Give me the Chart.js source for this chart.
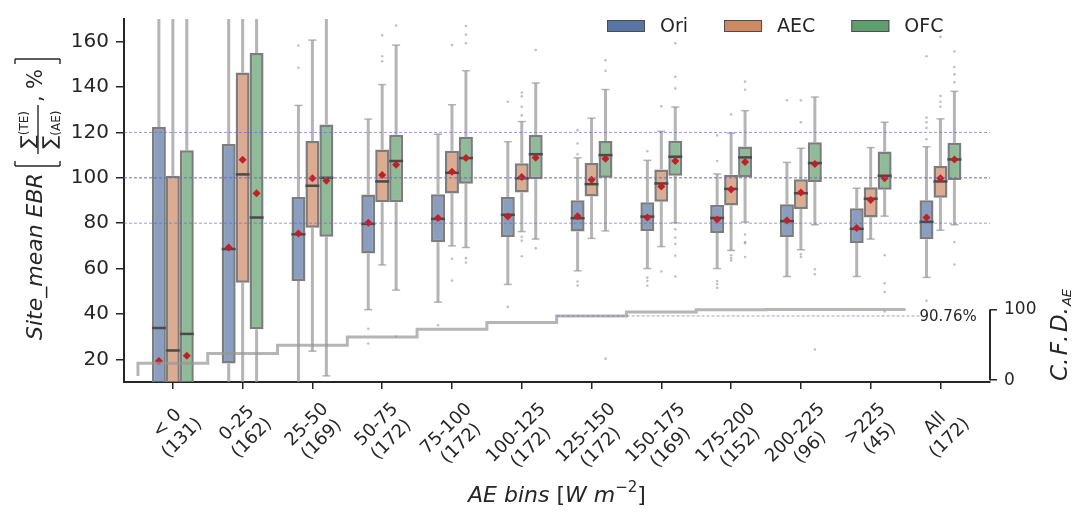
<!DOCTYPE html>
<html>
<head>
<meta charset="utf-8">
<script src="https://cdn.jsdelivr.net/npm/chart.js@4.4.1/dist/chart.umd.min.js"></script>
<style>
  html, body { margin: 0; padding: 0; background: #fff; }
  canvas { display: block; }
</style>
</head>
<body>
<canvas id="chart" width="1084" height="512"></canvas>
<script>
// bins along the x axis, with the sample count under each label
const categories = ['< 0', '0-25', '25-50', '50-75', '75-100', '100-125', '125-150', '150-175', '175-200', '200-225', '>225', 'All'];
const binCounts = [131, 162, 169, 172, 172, 172, 172, 169, 152, 96, 45, 172];
const yTicks = [20, 40, 60, 80, 100, 120, 140, 160];
const cfdTicks = [0, 100];
const refLines = [80, 100, 120];

// Ori
const oriQ1 = [-20, 18.1, 54.5, 66.6, 71.6, 73.9, 76.3, 76.6, 75.7, 73.9, 71.3, 72.9];
const oriMed = [33.8, 68.6, 75.1, 79.7, 81.9, 83.7, 82.2, 82.9, 82.3, 80.9, 77.5, 80.6];
const oriQ3 = [122.4, 114.9, 91.5, 92.6, 92.8, 91.5, 90.1, 89.2, 88.0, 88.3, 86.6, 90.1];
const oriLo = [-150, -80, 2, 41.9, 45.2, 53.0, 59.0, 60.0, 60.0, 56.5, 56.5, 56.1];
const oriHi = [300, 300, 131.9, 125.9, 119.2, 115.9, 108.8, 107.7, 101.7, 106.8, 95.4, 113.7];
const oriMean = [19.3, 69.3, 75.4, 80.2, 82.3, 83.0, 83.1, 82.5, 81.6, 81.2, 77.9, 82.5];
const oriOut = [[], [], [148.5, 158.3], [33.5, 27.0], [35.0], [133.5, 43.1],
  [121.0, 115.1, 110.4, 54.3, 52.5], [111.7, 56.0, 54.5, 52.4], [118.7, 107.4, 54.5, 53.2, 51.5],
  [134.2], [], [153.6, 126.6, 124.5, 122.0, 117.0, 45.8]];

// AEC
const aecQ1 = [-30, 53.7, 78.0, 89.2, 93.1, 93.5, 91.8, 89.5, 87.8, 86.3, 82.5, 91.2];
const aecMed = [23.9, 101.5, 96.5, 98.4, 102.2, 99.8, 97.2, 97.5, 95.1, 93.2, 90.8, 98.4];
const aecQ3 = [100.9, 146.4, 116.2, 112.5, 111.9, 106.4, 106.5, 103.7, 101.4, 99.4, 95.8, 105.2];
const aecLo = [-150, -50, 23.6, 61.6, 70.0, 76.3, 73.3, 69.7, 68.0, 68.3, 73.0, 76.9];
const aecHi = [300, 300, 160.7, 141.1, 132.2, 124.8, 126.3, 120.5, 119.7, 113.0, 113.3, 126.0];
const aecMean = [-5, 108.0, 99.8, 101.2, 102.7, 100.4, 99.1, 96.2, 94.8, 93.5, 90.2, 99.8];
const aecOut = [[], [], [], [162.8, 153.6, 151.4], [158.5, 64.3, 54.7],
  [137.6, 135.9, 131.3, 127.5, 74.0, 72.3, 65.4], [], [131.5, 58.7], [127.9, 65.9, 64.6, 63.5],
  [134.2, 124.5, 66.3, 65.1], [], [162.1, 136.1, 133.5, 131.3]];

// OFC
const ofcQ1 = [-10, 33.2, 74.0, 89.2, 97.4, 99.4, 100.0, 100.9, 100.1, 98.2, 94.7, 99.0];
const ofcMed = [31.2, 82.5, 100.0, 107.4, 108.7, 110.4, 110.0, 109.3, 109.0, 106.5, 100.9, 108.1];
const ofcQ3 = [112.1, 155.0, 123.5, 119.0, 118.1, 118.9, 116.2, 116.3, 113.8, 115.7, 111.6, 115.4];
const ofcLo = [-150, -50, 12.7, 50.5, 69.3, 73.0, 76.6, 80.2, 80.5, 79.3, 83.1, 79.3];
const ofcHi = [300, 300, 250, 158.5, 147.2, 141.8, 138.9, 131.2, 129.6, 135.6, 124.5, 138.1];
const ofcMean = [21.6, 93.2, 98.7, 105.8, 108.7, 108.8, 108.4, 107.4, 107.0, 106.1, 99.8, 108.1];
const ofcOut = [[], [], [], [167.1, 30.0], [166.9, 163.1, 159.3, 64.6, 62.7], [156.3, 69.0],
  [151.8, 147.2, 20.3], [159.3, 144.5, 139.4, 77.3, 73.7, 70.9, 65.7, 56.5],
  [142.4, 138.8, 75.0, 71.7, 71.2, 65.1], [59.7, 57.5, 24.3], [65.9, 53.5, 49.7, 41.1],
  [155.7, 148.8, 145.6, 142.1, 71.7, 61.8]];

// cumulative frequency of AE per bin (right axis, %)
const cfdStart = 5.9;
const cfdValues = [23.8, 37.6, 49.5, 60.9, 71.9, 81.6, 90.76, 96.3, 99.4, 100, 100];
const cfdMark = 90.76;

const TXT = '#262626';
const FONT = '"DejaVu Sans", sans-serif';
const GROUP_W = 0.6;

const series = [
  { name: 'Ori', q1: oriQ1, med: oriMed, q3: oriQ3, lo: oriLo, hi: oriHi, mean: oriMean, out: oriOut, fill: 'rgba(88,117,164,0.7)', solid: '#5875a4' },
  { name: 'AEC', q1: aecQ1, med: aecMed, q3: aecQ3, lo: aecLo, hi: aecHi, mean: aecMean, out: aecOut, fill: 'rgba(204,137,99,0.7)', solid: '#cc8963' },
  { name: 'OFC', q1: ofcQ1, med: ofcMed, q3: ofcQ3, lo: ofcLo, hi: ofcHi, mean: ofcMean, out: ofcOut, fill: 'rgba(95,158,110,0.7)', solid: '#5f9e6e' }
];

const shift = k => (k - 1) * GROUP_W / series.length;

const boxSets = series.map(s => ({
  type: 'bar',
  label: s.name,
  data: s.q1.map((q, i) => ({ x: i, y: [q, s.q3[i]] })),
  backgroundColor: s.fill,
  borderColor: '#7d7d7d',
  borderWidth: 2.5,
  borderSkipped: false,
  categoryPercentage: GROUP_W,
  barPercentage: 1,
  order: 3
}));

const outlierSets = series.map((s, k) => ({
  type: 'scatter',
  label: s.name + ' outliers',
  data: s.out.flatMap((vals, i) => vals.map(v => ({ x: i + shift(k), y: v }))),
  pointStyle: 'circle',
  pointRadius: 1.3,
  pointBackgroundColor: 'rgba(140,140,140,0.55)',
  pointBorderWidth: 0,
  order: 2
}));

const meanSets = series.map((s, k) => ({
  type: 'scatter',
  label: s.name + ' mean',
  data: s.mean.map((v, i) => ({ x: i + shift(k), y: v })),
  pointStyle: 'rectRot',
  pointRadius: 4,
  pointBackgroundColor: '#c41e24',
  pointBorderWidth: 0,
  order: 1
}));

const stepPoints = [{ x: -0.5, y: cfdStart }]
  .concat(cfdValues.map((v, i) => ({ x: i - 0.5, y: v })))
  .concat([{ x: cfdValues.length - 0.5, y: cfdValues[cfdValues.length - 1] }]);

const stepSet = {
  type: 'line',
  label: 'CFD',
  data: stepPoints,
  yAxisID: 'y2',
  stepped: true,
  borderColor: 'rgba(150,150,150,0.7)',
  borderWidth: 3,
  pointRadius: 0,
  fill: false,
  order: 0
};

function line(ctx, x1, y1, x2, y2) {
  ctx.beginPath(); ctx.moveTo(x1, y1); ctx.lineTo(x2, y2); ctx.stroke();
}

function clipArea(chart) {
  const a = chart.chartArea;
  chart.ctx.beginPath();
  chart.ctx.rect(a.left, a.top, a.right - a.left, a.bottom - a.top);
  chart.ctx.clip();
}

// draws a row of text runs, each with its own font and baseline shift
function drawRuns(ctx, runs, x, y, align) {
  let total = 0;
  runs.forEach(r => { ctx.font = r.f; r.w = ctx.measureText(r.t).width + (r.gap || 0); total += r.w; });
  let cx = align === 'center' ? x - total / 2 : x;
  ctx.textAlign = 'left';
  runs.forEach(r => { ctx.font = r.f; ctx.fillText(r.t, cx, y + (r.dy || 0)); cx += r.w; });
}

function drawXLabels(chart) {
  const { ctx, scales: { x } } = chart;
  ctx.save();
  ctx.font = '18px ' + FONT;
  ctx.fillStyle = TXT;
  ctx.textAlign = 'center';
  ctx.textBaseline = 'middle';
  const lh = 21;
  categories.forEach((c, i) => {
    const lines = [c, '(' + binCounts[i] + ')'];
    const w = Math.max(...lines.map(l => ctx.measureText(l).width));
    const h = lines.length * lh;
    const half = (w + h) * Math.SQRT1_2 / 2;
    ctx.save();
    ctx.translate(x.getPixelForValue(i) + 2, 399 + half);
    ctx.rotate(-Math.PI / 4);
    lines.forEach((l, j) => ctx.fillText(l, 0, (j - (lines.length - 1) / 2) * lh));
    ctx.restore();
  });
  ctx.restore();
}

function drawYTitle(ctx) {
  ctx.save();
  ctx.translate(42, 340);
  ctx.rotate(-Math.PI / 2);
  ctx.fillStyle = TXT;
  ctx.strokeStyle = TXT;
  ctx.textBaseline = 'alphabetic';
  ctx.textAlign = 'left';
  ctx.font = 'italic 22px ' + FONT;
  ctx.fillText('Site_mean EBR', 0, 0);
  // brackets
  ctx.lineWidth = 1.4;
  const b0 = 174, b1 = 281, vTop = -27, vBot = 18;
  line(ctx, b0, vTop, b0, vBot); line(ctx, b0, vTop, b0 + 5, vTop); line(ctx, b0, vBot, b0 + 5, vBot);
  line(ctx, b1, vTop, b1, vBot); line(ctx, b1, vTop, b1 - 5, vTop); line(ctx, b1, vBot, b1 - 5, vBot);
  // fraction
  const f0 = 186, f1 = 235;
  line(ctx, f0, -4, f1, -4);
  drawRuns(ctx, [{ t: '\u2211', f: '19px ' + FONT }, { t: '(TE)', f: '12px ' + FONT, dy: -6 }], (f0 + f1) / 2, -8, 'center');
  drawRuns(ctx, [{ t: '\u2211', f: '19px ' + FONT }, { t: '(AE)', f: '12px ' + FONT, dy: 4 }], (f0 + f1) / 2, 14, 'center');
  ctx.font = '21px ' + FONT;
  ctx.fillText(',', 238, 0);
  ctx.fillText('%', 251, 0);
  ctx.restore();
}

function drawCfdTitle(ctx) {
  ctx.save();
  ctx.translate(1067, 381);
  ctx.rotate(-Math.PI / 2);
  ctx.fillStyle = TXT;
  ctx.textBaseline = 'alphabetic';
  const it = 'italic 23px ' + FONT;
  drawRuns(ctx, [
    { t: 'C', f: it }, { t: '.', f: it, gap: 2.5 }, { t: 'F', f: it }, { t: '.', f: it, gap: 2.5 },
    { t: 'D', f: it }, { t: '.', f: it, gap: 1 }, { t: 'AE', f: 'italic 13px ' + FONT, dy: 4 }
  ], 0, 0, 'left');
  ctx.restore();
}

function drawXTitle(chart) {
  const { ctx, chartArea: a } = chart;
  ctx.save();
  ctx.fillStyle = TXT;
  ctx.textBaseline = 'alphabetic';
  drawRuns(ctx, [
    { t: 'AE bins ', f: 'italic 22px ' + FONT },
    { t: '[', f: '22px ' + FONT },
    { t: 'W m', f: 'italic 22px ' + FONT },
    { t: '\u22122', f: '15px ' + FONT, dy: -10 },
    { t: ']', f: '22px ' + FONT }
  ], (a.left + a.right) / 2, 502, 'center');
  ctx.restore();
}

function drawLegend(ctx) {
  ctx.save();
  ctx.textBaseline = 'middle';
  let x = 607;
  const y = 20, bw = 38, bh = 12;
  series.forEach(s => {
    ctx.fillStyle = s.solid;
    ctx.fillRect(x, y, bw, bh);
    ctx.strokeStyle = '#4d4d4d';
    ctx.lineWidth = 1;
    ctx.strokeRect(x + 0.5, y + 0.5, bw - 1, bh - 1);
    ctx.font = '19px ' + FONT;
    ctx.fillStyle = TXT;
    ctx.textAlign = 'left';
    ctx.fillText(s.name, x + bw + 15, y + bh / 2 + 1);
    x += bw + 15 + ctx.measureText(s.name).width + 36;
  });
  ctx.restore();
}

const boxParts = {
  id: 'boxParts',
  beforeDatasetsDraw(chart) {
    const { ctx, scales: { y } } = chart;
    ctx.save();
    clipArea(chart);
    series.forEach((s, k) => {
      chart.getDatasetMeta(k).data.forEach((bar, i) => {
        const x = bar.x;
        const yq1 = y.getPixelForValue(s.q1[i]), yq3 = y.getPixelForValue(s.q3[i]);
        const ylo = y.getPixelForValue(s.lo[i]), yhi = y.getPixelForValue(s.hi[i]);
        ctx.strokeStyle = 'rgba(150,150,150,0.7)';
        ctx.lineWidth = 3;
        line(ctx, x, yq3, x, yhi);
        line(ctx, x, yq1, x, ylo);
        ctx.lineWidth = 1.5;
        line(ctx, x - 4, yhi, x + 4, yhi);
        line(ctx, x - 4, ylo, x + 4, ylo);
      });
    });
    ctx.restore();
  },
  afterDatasetDraw(chart, args) {
    if (args.index >= series.length) return;
    const { ctx, scales: { y } } = chart;
    const s = series[args.index];
    ctx.save();
    clipArea(chart);
    ctx.strokeStyle = '#4a4a4a';
    ctx.lineWidth = 2.5;
    args.meta.data.forEach((bar, i) => {
      const ym = y.getPixelForValue(s.med[i]);
      line(ctx, bar.x - bar.width / 2, ym, bar.x + bar.width / 2, ym);
    });
    ctx.restore();
  },
  afterDatasetsDraw(chart) {
    const { ctx, chartArea: a, scales: { x, y, y2 } } = chart;
    ctx.save();
    ctx.strokeStyle = 'rgba(110,100,200,0.65)';
    ctx.setLineDash([3, 2]);
    refLines.forEach(v => {
      ctx.lineWidth = v === 100 ? 1.6 : 1;
      const yy = y.getPixelForValue(v);
      line(ctx, a.left, yy, a.right, yy);
    });
    ctx.lineWidth = 1;
    const ym = y2.getPixelForValue(cfdMark);
    line(ctx, x.getPixelForValue(5.5), ym, x.getPixelForValue(10.7), ym);
    ctx.setLineDash([]);
    ctx.fillStyle = TXT;
    ctx.font = '15px ' + FONT;
    ctx.textBaseline = 'middle';
    ctx.fillText(cfdMark.toFixed(2) + '%', x.getPixelForValue(10.7), ym + 1);
    ctx.restore();
  },
  afterDraw(chart) {
    const { ctx, chartArea: a, scales: { y2 } } = chart;
    ctx.save();
    ctx.strokeStyle = TXT;
    ctx.lineWidth = 2;
    line(ctx, a.right, y2.getPixelForValue(cfdTicks[0]), a.right, y2.getPixelForValue(cfdTicks[cfdTicks.length - 1]));
    ctx.restore();
    drawXLabels(chart);
    drawXTitle(chart);
    drawYTitle(ctx);
    drawCfdTitle(ctx);
    drawLegend(ctx);
  }
};

const tickGrid = len => ({ display: true, drawOnChartArea: false, drawTicks: true, tickLength: len, color: TXT, lineWidth: 1.5, offset: false });

new Chart(document.getElementById('chart'), {
  type: 'bar',
  data: { datasets: [...boxSets, ...outlierSets, ...meanSets, stepSet] },
  options: {
    responsive: false,
    animation: false,
    layout: { padding: { top: 10, left: 0, right: 0, bottom: 0 } },
    plugins: { legend: { display: false }, tooltip: { enabled: false } },
    scales: {
      x: {
        type: 'linear',
        min: -0.7,
        max: 11.71,
        offset: false,
        grid: tickGrid(7),
        border: { display: true, color: TXT, width: 2 },
        ticks: { display: false },
        afterBuildTicks: s => { s.ticks = categories.map((c, i) => ({ value: i })); },
        afterFit: s => { s.height = 130; }
      },
      y: {
        type: 'linear',
        position: 'left',
        min: 10,
        max: 170,
        grid: tickGrid(8),
        border: { display: true, color: TXT, width: 2 },
        ticks: { color: TXT, font: { family: 'DejaVu Sans', size: 20 }, padding: 7 },
        afterBuildTicks: s => { s.ticks = yTicks.map(v => ({ value: v })); },
        afterFit: s => { s.width = 124; }
      },
      y2: {
        type: 'linear',
        position: 'right',
        min: -2.5,
        max: 510,
        grid: tickGrid(7),
        border: { display: false },
        ticks: { color: TXT, font: { family: 'DejaVu Sans', size: 17 }, padding: 7 },
        afterBuildTicks: s => { s.ticks = cfdTicks.map(v => ({ value: v })); },
        afterFit: s => { s.width = 94; }
      }
    }
  },
  plugins: [boxParts]
});
</script>
</body>
</html>
